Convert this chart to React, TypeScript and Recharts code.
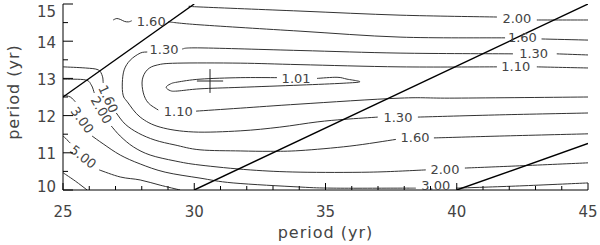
import React from 'react';
import { ComposedChart, Line, Scatter, XAxis, YAxis } from 'recharts';

type P = [number, number];

// ---- axis ticks ----
const xTicks = [25, 26, 27, 28, 29, 30, 31, 32, 33, 34, 35, 36, 37, 38, 39, 40, 41, 42, 43, 44, 45];
const xMajor = [25, 30, 35, 40, 45];
const yTicks = [10, 10.5, 11, 11.5, 12, 12.5, 13, 13.5, 14, 14.5, 15];
const yMajor = [10, 11, 12, 13, 14, 15];

// ---- ratio lines (period ratio 1/2, 1/3, 1/4) ----
const ratioHalf: P[] = [[25, 12.5], [30, 15]];
const ratioThird: P[] = [[30, 10], [45, 15]];
const ratioQuarter: P[] = [[40, 10], [45, 11.25]];

// ---- minimum marker ----
const plusH: P[] = [[30.1, 12.93], [31.1, 12.93]];
const plusV: P[] = [[30.6, 13.25], [30.6, 12.61]];

// ---- contour 2.00 (upper) ----
const c200TopA: P[] = [[29.84, 14.94], [30.22, 14.92], [34.03, 14.81], [37.84, 14.7], [41.53, 14.65]];
const c200TopB: P[] = [[43.05, 14.57], [45, 14.57]];

// ---- contour 1.60 (upper) ----
const c160TopA: P[] = [[26.91, 14.57], [27.05, 14.61], [27.2, 14.58], [27.35, 14.53], [27.5, 14.52], [27.62, 14.55]];
const c160TopB: P[] = [[29.01, 14.52], [30.22, 14.44], [34.03, 14.27], [37.84, 14.11], [41.84, 14.09]];
const c160TopC: P[] = [[43.23, 14.06], [45, 14.03]];

// ---- contour 1.30 ----
const c130A: P[] = [[45, 13.63], [43.81, 13.66]];
const c130B: P[] = [[42.14, 13.66], [37.84, 13.68], [34.03, 13.75], [30.22, 13.82], [29.54, 13.79]];
const c130C: P[] = [
  [28.21, 13.71], [27.94, 13.68], [27.56, 13.49], [27.33, 13.23], [27.26, 12.88], [27.29, 12.55],
  [27.45, 12.37], [27.94, 11.96], [28.7, 11.69], [29.96, 11.56], [31.75, 11.59], [33.26, 11.69],
  [34.68, 11.83], [35.74, 11.9], [36.99, 11.96],
];
const c130D: P[] = [[38.52, 11.96], [41.64, 12.02], [45, 12.07]];

// ---- contour 1.10 ----
const c110A: P[] = [[45, 13.28], [43.05, 13.31]];
const c110B: P[] = [
  [41.53, 13.31], [37.84, 13.31], [34.03, 13.37], [31.75, 13.41], [29.35, 13.41], [28.59, 13.36],
  [28.21, 13.23], [28.02, 12.96], [28.06, 12.61], [28.25, 12.34], [28.63, 12.15],
];
const c110C: P[] = [[30.07, 12.12], [31.75, 12.2], [34.03, 12.31], [37.84, 12.47], [39.93, 12.47], [45, 12.5]];

// ---- contour 1.01 (closed loop, opened at its label) ----
const c101: P[] = [
  [34.68, 13.0], [35.44, 13.03], [35.82, 12.98], [36.31, 12.91], [35.67, 12.87], [34.03, 12.82],
  [31.75, 12.76], [30.22, 12.72], [29.35, 12.66], [29.09, 12.67], [28.93, 12.76], [29.09, 12.85],
  [29.35, 12.9], [30.22, 12.98], [31.75, 13.02], [33.15, 13.02],
];

// ---- contour 1.60 (lower) ----
const c160LowA: P[] = [[25.01, 13.31], [25.85, 13.28], [26.34, 13.23], [26.5, 13.06], [26.53, 12.88]];
const c160LowB: P[] = [
  [27.03, 12.07], [27.37, 11.77], [27.87, 11.53], [28.51, 11.34], [29.27, 11.21], [30.22, 11.08],
  [31.75, 11.05], [32.89, 11.04], [34.03, 11.06], [35.93, 11.18], [37.68, 11.36],
];
const c160LowC: P[] = [[39.13, 11.4], [41.64, 11.45], [45, 11.51]];

// ---- contour 2.00 (lower) ----
const c200LowA: P[] = [[25.01, 12.98], [25.85, 12.96], [26.08, 12.82], [26.19, 12.61]];
const c200LowB: P[] = [
  [26.84, 11.72], [27.18, 11.45], [27.68, 11.16], [28.32, 10.94], [29.27, 10.78], [30.22, 10.67],
  [32.13, 10.54], [34.03, 10.48], [36.69, 10.48], [38.82, 10.54],
];
const c200LowC: P[] = [[40.31, 10.59], [42.4, 10.65], [45, 10.73]];

// ---- contour 3.00 ----
const c300A: P[] = [[25.01, 12.55], [25.28, 12.5], [25.47, 12.37]];
const c300B: P[] = [
  [26.11, 11.45], [26.53, 11.24], [27.18, 10.94], [27.94, 10.7], [28.89, 10.48], [30.22, 10.32],
  [31.48, 10.19], [34.03, 10.08], [35.29, 10.05], [37.84, 10.05], [38.44, 10.05],
];
const c300C: P[] = [[39.97, 10.05], [42.4, 10.11], [45, 10.19]];

// ---- contour 5.00 ----
const c500A: P[] = [[25.01, 11.45], [25.28, 11.26]];
const c500B: P[] = [[26.38, 10.54], [27.18, 10.35], [27.94, 10.27], [28.7, 10.13], [29.46, 10.0]];

// ---- unlabeled corner contour ----
const cCorner: P[] = [[25.01, 10.46], [25.47, 10.24], [25.92, 10.0]];

// ---- contour labels ----
const labelText = ['1.60', '1.30', '1.10', '1.01', '2.00', '1.60', '1.30', '1.10', '1.30', '1.60', '2.00', '3.00', '1.60', '2.00', '3.00', '5.00'];
const labelX = [28.36, 28.85, 29.39, 33.88, 42.29, 42.5, 42.93, 42.25, 37.76, 38.41, 39.55, 39.2, 26.72, 26.46, 25.73, 25.77];
const labelY = [14.54, 13.79, 12.1, 13.01, 14.62, 14.09, 13.68, 13.31, 11.96, 11.4, 10.56, 10.13, 12.45, 12.15, 11.88, 10.89];
const labelAngle = [0, 0, 0, 0, 0, 0, 0, 0, 0, 0, 0, 0, 65, 60, 54, 38];

const contours: P[][] = [
  c200TopA, c200TopB, c160TopA, c160TopB, c160TopC, c130A, c130B, c130C, c130D,
  c110A, c110B, c110C, c101, c160LowA, c160LowB, c160LowC, c200LowA, c200LowB, c200LowC,
  c300A, c300B, c300C, c500A, c500B, cCorner,
];
const ratios: P[][] = [ratioHalf, ratioThird, ratioQuarter];
const marker: P[][] = [plusH, plusV];

const rows = (pts: P[]) => pts.map(([x, y]) => ({ x, y }));
const labelRows = labelText.map((t, i) => ({ x: labelX[i], y: labelY[i], text: t, angle: labelAngle[i] }));

const FONT = '"DejaVu Sans", Verdana, sans-serif';
const TXT = '#444';

// Catmull-Rom curve factory for smooth contours
const catmull: any = (context: any) => {
  let pts: number[][] = [];
  return {
    areaStart() {},
    areaEnd() {},
    lineStart() { pts = []; },
    point(x: number, y: number) { pts.push([+x, +y]); },
    lineEnd() {
      const n = pts.length;
      if (!n) return;
      context.moveTo(pts[0][0], pts[0][1]);
      for (let i = 0; i < n - 1; i++) {
        const p0 = pts[i - 1] || pts[i];
        const p1 = pts[i];
        const p2 = pts[i + 1];
        const p3 = pts[i + 2] || p2;
        context.bezierCurveTo(
          p1[0] + (p2[0] - p0[0]) / 6, p1[1] + (p2[1] - p0[1]) / 6,
          p2[0] - (p3[0] - p1[0]) / 6, p2[1] - (p3[1] - p1[1]) / 6,
          p2[0], p2[1],
        );
      }
    },
  };
};

const BottomTick = (props: any) => {
  const { x, y, payload } = props;
  const v = payload.value;
  const major = xMajor.includes(v);
  return (
    <g>
      <line x1={x} x2={x} y1={y} y2={y - (major ? 7 : 4)} stroke="#000" strokeWidth={1} />
      {major && (
        <text x={x} y={y + 27} textAnchor="middle" fontFamily={FONT} fontSize={15} fill={TXT}>{v}</text>
      )}
    </g>
  );
};

const TopTick = (props: any) => {
  const { x, y, payload } = props;
  const major = xMajor.includes(payload.value);
  return <line x1={x} x2={x} y1={y} y2={y + (major ? 7 : 4)} stroke="#000" strokeWidth={1} />;
};

const LeftTick = (props: any) => {
  const { x, y, payload } = props;
  const v = payload.value;
  const major = yMajor.includes(v);
  const cy = Math.min(Math.max(y + 1, 11), 186);
  return (
    <g>
      <line x1={x} x2={x + (major ? 10 : 5)} y1={y} y2={y} stroke="#000" strokeWidth={1} />
      {major && (
        <text x={x - 7} y={cy + 5.5} textAnchor="end" fontFamily={FONT} fontSize={15} fill={TXT}>{v}</text>
      )}
    </g>
  );
};

const RightTick = (props: any) => {
  const { x, y, payload } = props;
  const major = yMajor.includes(payload.value);
  return <line x1={x} x2={x - (major ? 10 : 5)} y1={y} y2={y} stroke="#000" strokeWidth={1} />;
};

const XTitle = (p: any) => {
  const vb = p.viewBox || { x: 63, y: 190, width: 526, height: 55 };
  return (
    <text x={vb.x + vb.width / 2} y={vb.y + 48} textAnchor="middle" fontFamily={FONT} fontSize={16} letterSpacing={1} fill={TXT}>
      period (yr)
    </text>
  );
};

const YTitle = (p: any) => {
  const vb = p.viewBox || { x: 0, y: 4, width: 63, height: 186 };
  const cx = vb.x + 19;
  const cy = vb.y + vb.height / 2 - 5;
  return (
    <text x={cx} y={cy} transform={`rotate(-90 ${cx} ${cy})`} textAnchor="middle" fontFamily={FONT} fontSize={16} letterSpacing={1} fill={TXT}>
      period (yr)
    </text>
  );
};

const renderLabel = (p: any) => {
  const { cx, cy, payload } = p;
  return (
    <text
      x={cx}
      y={cy}
      dy={4.5}
      transform={`rotate(${payload.angle} ${cx} ${cy})`}
      textAnchor="middle"
      fontFamily={FONT}
      fontSize={13}
      fill={TXT}
    >
      {payload.text}
    </text>
  );
};

export default function App() {
  return (
    <div style={{ position: 'absolute', left: 0, top: 0, width: 600, height: 245, background: '#fff' }}>
      <ComposedChart width={600} height={245} margin={{ top: 4, right: 12, bottom: 0, left: 0 }}>
        <XAxis
          xAxisId="b"
          type="number"
          dataKey="x"
          domain={[25, 45]}
          ticks={xTicks}
          interval={0}
          orientation="bottom"
          height={55}
          tickSize={0}
          tickMargin={0}
          tickLine={false}
          tick={<BottomTick />}
          axisLine={{ stroke: '#000', strokeWidth: 1 }}
          label={XTitle}
          allowDataOverflow
        />
        <XAxis
          xAxisId="t"
          type="number"
          dataKey="x"
          domain={[25, 45]}
          ticks={xTicks}
          interval={0}
          orientation="top"
          height={0}
          tickSize={0}
          tickMargin={0}
          tickLine={false}
          tick={<TopTick />}
          axisLine={{ stroke: '#000', strokeWidth: 1 }}
          allowDataOverflow
        />
        <YAxis
          yAxisId="l"
          type="number"
          dataKey="y"
          domain={[10, 15]}
          ticks={yTicks}
          interval={0}
          orientation="left"
          width={63}
          tickSize={0}
          tickMargin={0}
          tickLine={false}
          tick={<LeftTick />}
          axisLine={{ stroke: '#000', strokeWidth: 1 }}
          label={YTitle}
          allowDataOverflow
        />
        <YAxis
          yAxisId="r"
          type="number"
          dataKey="y"
          domain={[10, 15]}
          ticks={yTicks}
          interval={0}
          orientation="right"
          width={0}
          tickSize={0}
          tickMargin={0}
          tickLine={false}
          tick={<RightTick />}
          axisLine={{ stroke: '#000', strokeWidth: 1 }}
          allowDataOverflow
        />
        {contours.map((c, i) => (
          <Line
            key={'c' + i}
            xAxisId="b"
            yAxisId="l"
            data={rows(c)}
            dataKey="y"
            type={catmull}
            stroke="#333"
            strokeWidth={1}
            dot={false}
            activeDot={false}
            isAnimationActive={false}
          />
        ))}
        {ratios.map((c, i) => (
          <Line
            key={'r' + i}
            xAxisId="b"
            yAxisId="l"
            data={rows(c)}
            dataKey="y"
            type="linear"
            stroke="#000"
            strokeWidth={1.4}
            dot={false}
            activeDot={false}
            isAnimationActive={false}
          />
        ))}
        {marker.map((c, i) => (
          <Line
            key={'m' + i}
            xAxisId="b"
            yAxisId="l"
            data={rows(c)}
            dataKey="y"
            type="linear"
            stroke="#222"
            strokeWidth={1}
            dot={false}
            activeDot={false}
            isAnimationActive={false}
          />
        ))}
        <Scatter
          xAxisId="b"
          yAxisId="l"
          data={labelRows}
          dataKey="y"
          shape={renderLabel}
          isAnimationActive={false}
        />
      </ComposedChart>
    </div>
  );
}
